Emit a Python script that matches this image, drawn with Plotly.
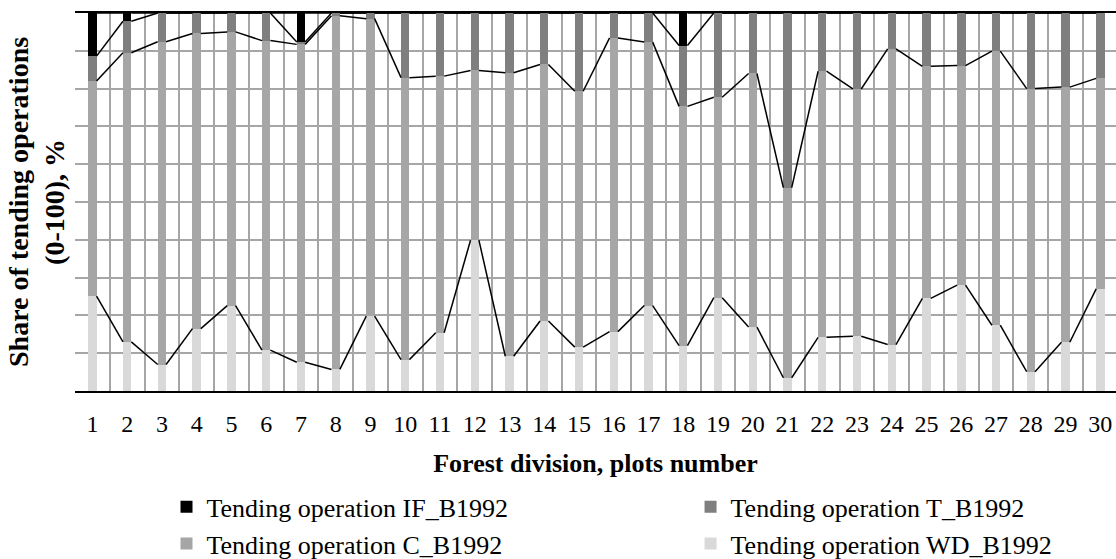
import plotly.graph_objects as go

# plots 1..30, share of each tending operation (%)
plots = list(range(1, 31))
wd_1992 = [25.1, 13.0, 7.0, 16.5, 22.6, 10.8, 7.6, 5.7, 19.8, 8.3,
           15.4, 39.9, 9.2, 18.5, 11.6, 15.7, 22.6, 12.0, 24.7, 16.9,
           3.5, 14.2, 14.5, 12.3, 24.5, 28.0, 17.4, 5.1, 12.9, 27.0]
c_1992 = [56.9, 76.5, 85.4, 78.1, 72.4, 81.9, 84.1, 93.6, 78.7, 74.6,
          67.9, 44.9, 75.0, 67.9, 67.7, 77.7, 69.7, 63.3, 53.0, 67.1,
          50.3, 70.4, 65.4, 78.2, 61.4, 58.1, 72.5, 74.9, 67.5, 55.7]
t_1992 = [6.6, 8.3, 7.6, 5.4, 5.0, 7.3, 0.6, 0.7, 1.5, 17.1,
          16.7, 15.2, 15.8, 13.6, 20.7, 6.6, 7.7, 16.1, 22.3, 16.0,
          46.2, 15.4, 20.1, 9.5, 14.1, 13.9, 10.1, 20.0, 19.6, 17.3]
if_1992 = [11.4, 2.2, 0, 0, 0, 0, 7.7, 0, 0, 0,
           0, 0, 0, 0, 0, 0, 0, 8.6, 0, 0,
           0, 0, 0, 0, 0, 0, 0, 0, 0, 0]

FONT = "Liberation Serif"
BAR_W = 0.24

# bottom to top of the stack; legend = left column, legend2 = right column
series = [
    ("Tending operation WD_B1992", wd_1992, "#d9d9d9", "legend2", 2),
    ("Tending operation C_B1992", c_1992, "#a6a6a6", "legend", 2),
    ("Tending operation T_B1992", t_1992, "#7f7f7f", "legend2", 1),
    ("Tending operation IF_B1992", if_1992, "#000000", "legend", 1),
]

fig = go.Figure()
for name, vals, col, leg, rank in series:
    fig.add_trace(go.Bar(x=plots, y=vals, name=name, width=BAR_W,
                         marker=dict(color=col, line=dict(width=0)),
                         legend=leg, legendgroup=name, legendrank=rank))

# series lines joining the top of each stack level between neighbouring bars
cum = [0] * len(plots)
for name, vals, col, leg, rank in series:
    cum = [a + b for a, b in zip(cum, vals)]
    xs, ys = [], []
    for i in range(len(plots) - 1):
        xs += [plots[i] + BAR_W / 2, plots[i + 1] - BAR_W / 2, None]
        ys += [cum[i], cum[i + 1], None]
    fig.add_trace(go.Scatter(x=xs, y=ys, mode="lines", showlegend=False,
                             line=dict(color="black", width=1.5),
                             hoverinfo="skip"))

legend_style = dict(yanchor="top", xanchor="left", y=-0.2445,
                    font=dict(size=26), traceorder="grouped",
                    tracegroupgap=0, itemwidth=30)

fig.update_layout(
    width=1116, height=559,
    barmode="stack",
    plot_bgcolor="white", paper_bgcolor="white",
    margin=dict(l=75, r=0, t=13, b=168, autoexpand=False),
    font=dict(family=FONT, color="black", size=24),
    legend=dict(x=0.0879, **legend_style),
    legend2=dict(x=0.5913, **legend_style),
    annotations=[dict(text="<b>Share of tending operations<br>(0-100), %</b>",
                      x=-0.0375, y=0.5, xref="paper", yref="paper",
                      xanchor="center", yanchor="middle",
                      textangle=-90, showarrow=False,
                      font=dict(size=28, family=FONT))],
)

fig.update_xaxes(
    range=[0.5, 30.45], automargin=False,
    tickvals=plots, ticktext=[str(p) for p in plots],
    showgrid=False,
    minor=dict(tickvals=[p + 0.5 for p in plots[:-1]], showgrid=True,
               gridcolor="#a6a6a6", gridwidth=2, ticks=""),
    showline=True, mirror=True, linecolor="black", linewidth=2,
    ticks="", ticklabelstandoff=10,
    tickfont=dict(size=24),
    title=dict(text="<b>Forest division, plots number</b>",
               font=dict(size=26), standoff=18),
)
fig.update_yaxes(
    range=[0, 100], dtick=10, showticklabels=False, automargin=False,
    showgrid=True, gridcolor="#a6a6a6", gridwidth=2, zeroline=False,
)

# the page body has an 8px margin by default; drop it so the chart sits flush
fig.write_html("out.html", config={"displayModeBar": False},
               post_script="document.body.style.margin = '0';")
